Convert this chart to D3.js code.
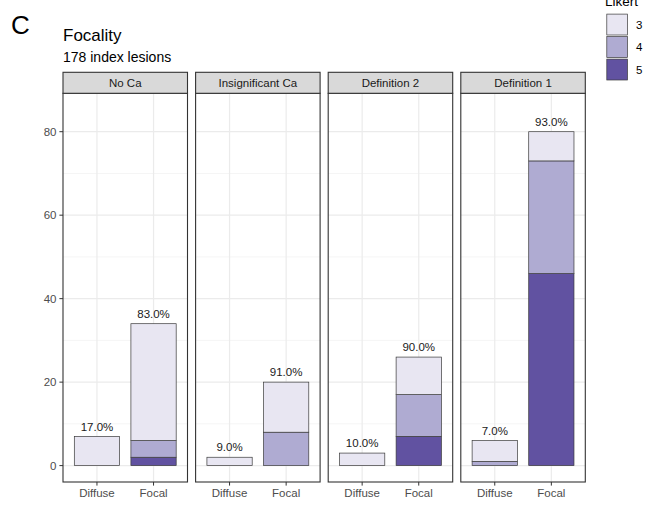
<!DOCTYPE html>
<html>
<head>
<meta charset="utf-8">
<script src="https://cdn.jsdelivr.net/npm/d3@7"></script>
<style>
  html, body { margin: 0; padding: 0; background: #fff; }
  svg { display: block; font-family: "Liberation Sans", Arial, Helvetica, sans-serif; }
</style>
</head>
<body>
<svg id="chart" width="648" height="515"></svg>
<script>
// Facets, x categories and legend levels
const groups = ["No Ca", "Insignificant Ca", "Definition 2", "Definition 1"];
const focality = ["Diffuse", "Focal"];
const likertLevels = ["3", "4", "5"];

// Lesion counts per facet: [Diffuse, Focal]
const likert3 = [[7, 28], [2, 12], [3, 9], [5, 7]];
const likert4 = [[0, 4], [0, 8], [0, 10], [1, 27]];
const likert5 = [[0, 2], [0, 0], [0, 7], [0, 46]];

const yTicks = [0, 20, 40, 60, 80];
const yMinor = [10, 30, 50, 70];

const colors = { "3": "#e8e6f2", "4": "#afabd2", "5": "#6152a1" };

const svg = d3.select("#chart");

// Layout
const panelTop = 93.3, panelBottom = 482;
const stripTop = 72.3;
const panelLeft0 = 63, panelW = 124.5, panelGap = 8.1;

const y = d3.scaleLinear().domain([0, 80]).range([465.6, 131.7]);

// Headings
svg.append("text").attr("x", 11).attr("y", 33.5).attr("font-size", 26).attr("fill", "#000").text("C");
svg.append("text").attr("x", 63).attr("y", 40.5).attr("font-size", 17).attr("fill", "#000").text("Focality");
svg.append("text").attr("x", 63).attr("y", 62).attr("font-size", 14).attr("fill", "#000").text("178 index lesions");

// Build rows for each facet
const rows = groups.map((g, gi) => focality.map((f, fi) => ({
  group: g, focality: f,
  "3": likert3[gi][fi], "4": likert4[gi][fi], "5": likert5[gi][fi]
})));

const stackGen = d3.stack().keys(["5", "4", "3"]);

// Y axis (left of first panel)
const yAxis = svg.append("g");
yTicks.forEach(t => {
  yAxis.append("line").attr("x1", panelLeft0 - 3.6).attr("x2", panelLeft0)
    .attr("y1", y(t)).attr("y2", y(t)).attr("stroke", "#333").attr("stroke-width", 1);
  yAxis.append("text").attr("x", panelLeft0 - 6.5).attr("y", y(t)).attr("dy", "0.36em")
    .attr("text-anchor", "end").attr("font-size", 11.5).attr("fill", "#4d4d4d").text(t);
});

groups.forEach((g, gi) => {
  const px = panelLeft0 + gi * (panelW + panelGap);
  const x = d3.scalePoint().domain(focality).range([px, px + panelW]).padding(0.6);
  const bw = x.step() * 0.8;
  const p = svg.append("g");

  // panel background + grid
  p.append("rect").attr("x", px).attr("y", panelTop).attr("width", panelW)
    .attr("height", panelBottom - panelTop).attr("fill", "#fff");
  yMinor.forEach(t => p.append("line").attr("x1", px).attr("x2", px + panelW)
    .attr("y1", y(t)).attr("y2", y(t)).attr("stroke", "#f2f2f2").attr("stroke-width", 0.8));
  yTicks.forEach(t => p.append("line").attr("x1", px).attr("x2", px + panelW)
    .attr("y1", y(t)).attr("y2", y(t)).attr("stroke", "#ebebeb").attr("stroke-width", 1.2));
  focality.forEach(f => p.append("line").attr("x1", x(f)).attr("x2", x(f))
    .attr("y1", panelTop).attr("y2", panelBottom).attr("stroke", "#ebebeb").attr("stroke-width", 1.2));

  // stacked bars
  const series = stackGen(rows[gi]);
  series.forEach(s => {
    p.selectAll(null).data(s.filter(d => d[1] > d[0])).enter().append("rect")
      .attr("x", d => x(d.data.focality) - bw / 2)
      .attr("width", bw)
      .attr("y", d => y(d[1]))
      .attr("height", d => y(d[0]) - y(d[1]))
      .attr("fill", colors[s.key])
      .attr("stroke", "#3a3a3a").attr("stroke-width", 0.7);
  });

  // percentage labels
  const total = d3.sum(rows[gi], d => d["3"] + d["4"] + d["5"]);
  rows[gi].forEach(d => {
    const v = d["3"] + d["4"] + d["5"];
    const pct = Math.round(100 * v / total).toFixed(1) + "%";
    p.append("text").attr("x", x(d.focality)).attr("y", y(v) - 5.8)
      .attr("text-anchor", "middle").attr("font-size", 11.5).attr("fill", "#1a1a1a").text(pct);
  });

  // panel border
  p.append("rect").attr("x", px).attr("y", panelTop).attr("width", panelW)
    .attr("height", panelBottom - panelTop).attr("fill", "none")
    .attr("stroke", "#333").attr("stroke-width", 1.1);

  // strip
  p.append("rect").attr("x", px).attr("y", stripTop).attr("width", panelW)
    .attr("height", panelTop - stripTop).attr("fill", "#d9d9d9")
    .attr("stroke", "#333").attr("stroke-width", 1.1);
  p.append("text").attr("x", px + panelW / 2).attr("y", (stripTop + panelTop) / 2).attr("dy", "0.36em")
    .attr("text-anchor", "middle").attr("font-size", 11.5).attr("fill", "#1a1a1a").text(g);

  // x axis
  focality.forEach(f => {
    p.append("line").attr("x1", x(f)).attr("x2", x(f)).attr("y1", panelBottom).attr("y2", panelBottom + 3.6)
      .attr("stroke", "#333").attr("stroke-width", 1);
    p.append("text").attr("x", x(f)).attr("y", 497).attr("text-anchor", "middle")
      .attr("font-size", 11.5).attr("fill", "#4d4d4d").text(f);
  });
});

// Legend
const lg = svg.append("g");
lg.append("text").attr("x", 605).attr("y", 6).attr("font-size", 13.5).attr("fill", "#000").text("Likert");
const keyH = 22.5, keyTop = 13.3, keyX = 606, keyW = 22.3;
likertLevels.forEach((k, i) => {
  lg.append("rect").attr("x", keyX + 0.8).attr("y", keyTop + i * keyH + 0.8)
    .attr("width", keyW - 1.6).attr("height", keyH - 1.6)
    .attr("fill", colors[k]).attr("stroke", "#3a3a3a").attr("stroke-width", 0.7);
  lg.append("text").attr("x", 636).attr("y", keyTop + i * keyH + keyH / 2).attr("dy", "0.36em")
    .attr("font-size", 11.5).attr("fill", "#000").text(k);
});
</script>
</body>
</html>
